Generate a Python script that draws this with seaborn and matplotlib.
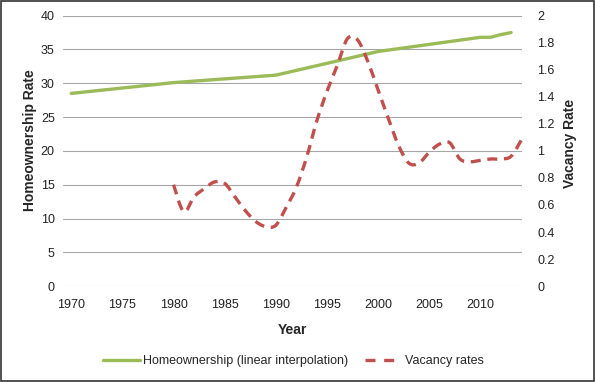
import matplotlib
matplotlib.use("Agg")
import matplotlib.pyplot as plt
import seaborn as sns
import pandas as pd
import numpy as np
from matplotlib.path import Path
from matplotlib.patches import PathPatch, Rectangle
from matplotlib.lines import Line2D

# ---- data ----
home_years = [1970, 1980, 1990, 2000, 2010, 2011, 2012, 2013]
home_rate = [28.5, 30.1, 31.2, 34.7, 36.8, 36.8, 37.2, 37.5]

vac_years = list(range(1980, 2015))
vac_rate = [0.75, 0.55, 0.66, 0.72, 0.77, 0.76, 0.66, 0.56, 0.48, 0.44,
            0.45, 0.58, 0.73, 0.95, 1.22, 1.44, 1.63, 1.83, 1.82, 1.66,
            1.45, 1.24, 1.04, 0.91, 0.91, 0.99, 1.05, 1.06, 0.94, 0.92,
            0.93, 0.94, 0.94, 0.96, 1.08]

x_ticks = [1970, 1975, 1980, 1985, 1990, 1995, 2000, 2005, 2010]
left_ticks = [0, 5, 10, 15, 20, 25, 30, 35, 40]
right_ticks = [0, 0.2, 0.4, 0.6, 0.8, 1, 1.2, 1.4, 1.6, 1.8, 2]
right_labels = ["0", "0.2", "0.4", "0.6", "0.8", "1", "1.2", "1.4", "1.6", "1.8", "2"]

GREEN = "#9BBB59"
RED = "#C0504D"

sns.set_theme(style="white")
plt.rcParams["font.family"] = ["Liberation Sans", "DejaVu Sans"]

fig = plt.figure(figsize=(5.95, 3.82), dpi=100)
ax = fig.add_axes([0.106, 0.251, 0.771, 0.708])

home_df = pd.DataFrame({"Year": home_years, "Rate": home_rate})
sns.lineplot(data=home_df, x="Year", y="Rate", ax=ax, color=GREEN, lw=2.4,
             legend=False, zorder=3)

ax.set_xlim(1969.2, 2014.05)
ax.set_ylim(0, 40)
ax.set_xticks(x_ticks)
ax.set_xticklabels([str(t) for t in x_ticks])
ax.set_yticks(left_ticks)
ax.set_yticklabels([str(t) for t in left_ticks])
ax.yaxis.grid(True, color="#A6A6A6", lw=0.8)
ax.xaxis.grid(False)
for s in ax.spines.values():
    s.set_visible(False)
ax.tick_params(axis="both", length=0, labelsize=9, colors="#222222")
ax.tick_params(axis="y", pad=6)
ax.tick_params(axis="x", pad=9)
ax.set_xlabel("Year", fontsize=10, fontweight="bold")
ax.xaxis.set_label_coords(0.5, -0.135)
ax.set_ylabel("Homeownership Rate", fontsize=10, fontweight="bold")
ax.yaxis.set_label_coords(-0.057, 0.538)

ax2 = ax.twinx()
ax2.set_ylim(0, 2)
ax2.set_yticks(right_ticks)
ax2.set_yticklabels(right_labels)
for s in ax2.spines.values():
    s.set_visible(False)
ax2.tick_params(axis="y", length=0, labelsize=9, colors="#222222", pad=11)
ax2.set_ylabel("Vacancy Rate", fontsize=10, fontweight="bold")
ax2.yaxis.set_label_coords(1.089, 0.527)
ax2.grid(False)

# smoothed (Excel-style Bezier) vacancy line through the data points
px = np.array(vac_years, dtype=float)
py = np.array(vac_rate, dtype=float)
n = len(px)
verts = [(px[0], py[0])]
codes = [Path.MOVETO]
for i in range(n - 1):
    p0 = np.array([px[max(i - 1, 0)], py[max(i - 1, 0)]])
    p1 = np.array([px[i], py[i]])
    p2 = np.array([px[i + 1], py[i + 1]])
    p3 = np.array([px[min(i + 2, n - 1)], py[min(i + 2, n - 1)]])
    c1 = p1 + (p2 - p0) / 6.0
    c2 = p2 - (p3 - p1) / 6.0
    verts += [tuple(c1), tuple(c2), tuple(p2)]
    codes += [Path.CURVE4, Path.CURVE4, Path.CURVE4]
patch = PathPatch(Path(verts, codes), fill=False, edgecolor=RED, lw=2.4,
                  linestyle=(0, (3.0, 2.0)), zorder=4, clip_on=False)
ax2.add_patch(patch)

handles = [Line2D([0], [0], color=GREEN, lw=2.4),
           Line2D([0], [0], color=RED, lw=2.4, linestyle=(0, (3.0, 2.6)))]
fig.legend(handles, ["Homeownership (linear interpolation)", "Vacancy rates"],
           loc="center", bbox_to_anchor=(0.494, 0.054), ncol=2, frameon=False,
           fontsize=9, handlelength=2.9, columnspacing=1.35, handletextpad=0.3)

fig.add_artist(Rectangle((0.001, 0.002), 0.997, 0.995, transform=fig.transFigure,
                         fill=False, edgecolor="#333333", lw=1.2))

fig.savefig("out.png", dpi=100)
